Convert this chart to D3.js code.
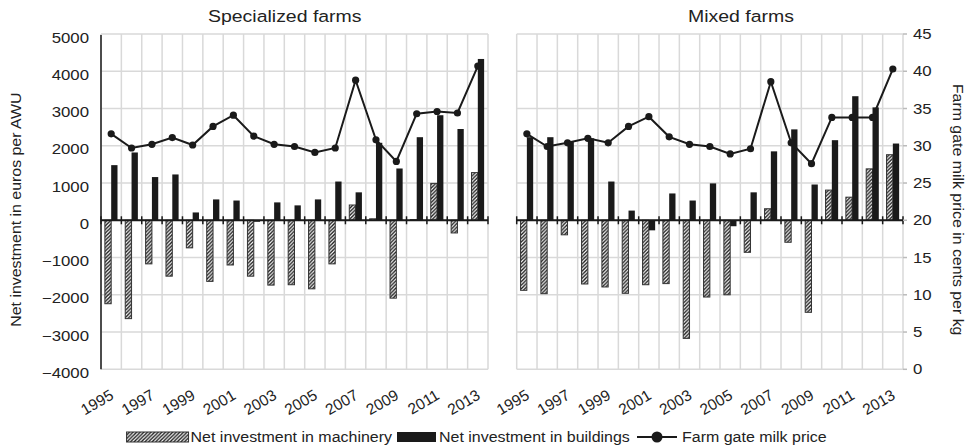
<!DOCTYPE html>
<html>
<head>
<meta charset="utf-8">
<script src="https://cdn.jsdelivr.net/npm/d3@7"></script>
<style>
  body { margin: 0; background: #fff; }
  text { font-family: "Liberation Sans", Arial, sans-serif; fill: #222; }
</style>
</head>
<body>
<svg id="chart" width="973" height="448"></svg>
<script>
const years = [1995, 1996, 1997, 1998, 1999, 2000, 2001, 2002, 2003, 2004,
  2005, 2006, 2007, 2008, 2009, 2010, 2011, 2012, 2013];
const yearLabels = [1995, 1997, 1999, 2001, 2003, 2005, 2007, 2009, 2011, 2013];

const specMach = [-2240, -2640, -1170, -1500, -740, -1640, -1200, -1500, -1740, -1730,
  -1840, -1170, 410, 40, -2090, 20, 990, -340, 1280];
const specBuild = [1480, 1820, 1160, 1230, 210, 560, 530, -40, 480, 400,
  560, 1040, 750, 2080, 1390, 2230, 2820, 2450, 4330];
const specPrice = [31.6, 29.7, 30.2, 31.1, 30.1, 32.6, 34.1, 31.3, 30.2, 29.9,
  29.1, 29.7, 38.8, 30.8, 27.9, 34.3, 34.6, 34.4, 40.7];

const mixMach = [-1880, -1970, -390, -1710, -1790, -1960, -1730, -1700, -3170, -2060,
  -2000, -860, 310, -590, -2470, 810, 620, 1380, 1760];
const mixBuild = [2230, 2230, 2100, 2200, 1040, 260, -270, 720, 530, 990,
  -160, 750, 1850, 2440, 960, 2150, 3330, 3030, 2060];
const mixPrice = [31.6, 29.9, 30.4, 31.0, 30.4, 32.6, 33.9, 31.2, 30.2, 29.9,
  28.9, 29.6, 38.6, 30.4, 27.6, 33.8, 33.8, 33.8, 40.3];

const invTicks = [-4000, -3000, -2000, -1000, 0, 1000, 2000, 3000, 4000, 5000];
const priceTicks = [0, 5, 10, 15, 20, 25, 30, 35, 40, 45];

const svg = d3.select('#chart');
const sx = 1.16; // reference text is a bit wider than Arial

function label(g, x, y, s, size, anchor, k) {
  return g.append('text')
    .attr('transform', `translate(${x},${y}) scale(${k || sx},1)`)
    .attr('text-anchor', anchor || 'start')
    .style('font-size', size + 'px')
    .text(s);
}

const defs = svg.append('defs');
defs.append('pattern')
  .attr('id', 'hatch')
  .attr('patternUnits', 'userSpaceOnUse')
  .attr('width', 3.6)
  .attr('height', 3.6)
  .append('path')
  .attr('d', 'M-0.9,0.9 l1.8,-1.8 M0,3.6 l3.6,-3.6 M2.7,4.5 l1.8,-1.8')
  .attr('stroke', '#1a1a1a')
  .attr('stroke-width', 1.4);

const plotTop = 34, plotBottom = 369.3;
const yInv = d3.scaleLinear().domain([-4000, 5000]).range([plotBottom, plotTop]);
const yPrice = d3.scaleLinear().domain([0, 45]).range([plotBottom, plotTop]);

function panel(x0, x1, mach, build, price, leftAxis) {
  const g = svg.append('g');
  const x = d3.scaleBand().domain(years).range([x0, x1])
    .paddingInner(0.38).paddingOuter(0.19);
  const step = x.step();
  const xs = d3.scaleBand().domain(['m', 'b']).range([0, x.bandwidth()]);
  const edges = years.map(d => x(d) - step * 0.19).concat([x1]);

  // grid
  g.selectAll('line.h').data(invTicks).enter().append('line')
    .attr('x1', x0).attr('x2', x1)
    .attr('y1', d => yInv(d)).attr('y2', d => yInv(d))
    .attr('stroke', '#d9d9d9').attr('stroke-width', 1.5);
  g.selectAll('line.v').data(edges).enter().append('line')
    .attr('x1', d => d).attr('x2', d => d)
    .attr('y1', plotTop).attr('y2', plotBottom)
    .attr('stroke', '#d9d9d9').attr('stroke-width', 1.5);

  // bars
  const rows = years.map((yr, i) => ({ yr, m: mach[i], b: build[i], p: price[i] }));
  g.selectAll('rect.m').data(rows).enter().append('rect')
    .attr('x', d => x(d.yr) + xs('m'))
    .attr('width', xs.bandwidth())
    .attr('y', d => yInv(Math.max(0, d.m)))
    .attr('height', d => Math.abs(yInv(d.m) - yInv(0)))
    .attr('fill', 'url(#hatch)')
    .attr('stroke', '#333').attr('stroke-width', 1);
  g.selectAll('rect.b').data(rows).enter().append('rect')
    .attr('x', d => x(d.yr) + xs('b'))
    .attr('width', xs.bandwidth())
    .attr('y', d => yInv(Math.max(0, d.b)))
    .attr('height', d => Math.abs(yInv(d.b) - yInv(0)))
    .attr('fill', '#1a1a1a');

  // zero axis with ticks
  g.append('line')
    .attr('x1', x0).attr('x2', x1)
    .attr('y1', yInv(0)).attr('y2', yInv(0))
    .attr('stroke', '#1a1a1a').attr('stroke-width', 2);
  g.selectAll('line.t').data(edges).enter().append('line')
    .attr('x1', d => d).attr('x2', d => d)
    .attr('y1', yInv(0) - 4).attr('y2', yInv(0) + 4)
    .attr('stroke', '#1a1a1a').attr('stroke-width', 1.5);

  if (leftAxis) {
    g.append('line')
      .attr('x1', x0).attr('x2', x0).attr('y1', plotTop + 1).attr('y2', plotBottom)
      .attr('stroke', '#1a1a1a').attr('stroke-width', 1.5);
  }

  // price line
  const cx = d => x(d.yr) + x.bandwidth() / 2;
  g.append('path')
    .datum(rows)
    .attr('fill', 'none')
    .attr('stroke', '#1a1a1a')
    .attr('stroke-width', 2)
    .attr('d', d3.line().x(cx).y(d => yPrice(d.p)));
  g.selectAll('circle').data(rows).enter().append('circle')
    .attr('cx', cx).attr('cy', d => yPrice(d.p)).attr('r', 3.6)
    .attr('fill', '#1a1a1a');

  // year labels
  g.selectAll('text.yr').data(yearLabels).enter().append('text')
    .attr('text-anchor', 'end')
    .style('font-size', '15.5px')
    .attr('transform', d => `translate(${x(d) + x.bandwidth() / 2 + 3.5},${plotBottom + 29}) rotate(-30)`)
    .text(d => d);

  return g;
}

panel(101, 488, specMach, specBuild, specPrice, true);
const right = panel(516.7, 903, mixMach, mixBuild, mixPrice, false);

// right axis outward ticks
right.selectAll('line.rt').data(priceTicks).enter().append('line')
  .attr('x1', 903).attr('x2', 907)
  .attr('y1', d => yPrice(d)).attr('y2', d => yPrice(d))
  .attr('stroke', '#bbb').attr('stroke-width', 1.5);

// axis labels
invTicks.forEach(v => label(svg, 89, yInv(v) + 8.5, d3.format('')(v), 14, 'end', 1.2));
priceTicks.forEach(v => label(svg, 913, yPrice(v) + 5, v, 14, 'start', 1.2));

// titles
label(svg, 208, 22, 'Specialized farms', 16.5, 'start', 1.18);
label(svg, 688, 22, 'Mixed farms', 16.5, 'start', 1.18);

svg.append('text')
  .attr('transform', `translate(21,${(plotTop + plotBottom) / 2 + 8}) rotate(-90) scale(1.06,1)`)
  .attr('text-anchor', 'middle')
  .style('font-size', '15px')
  .text('Net investment in euros per AWU');
svg.append('text')
  .attr('transform', `translate(953,${(plotTop + plotBottom) / 2 + 8}) rotate(90) scale(1.06,1)`)
  .attr('text-anchor', 'middle')
  .style('font-size', '15px')
  .text('Farm gate milk price in cents per kg');

// legend
const ly = 437;
const leg = svg.append('g');
const tb = label(leg, 439, ly + 5, 'Net investment in buildings', 15, 'start', 1);
const kLeg = 191 / tb.node().getComputedTextLength();
tb.attr('transform', `translate(439,${ly + 5}) scale(${kLeg},1)`);
const t1 = label(leg, 392, ly + 5, 'Net investment in machinery', 15, 'end', kLeg);
const w1 = t1.node().getComputedTextLength() * kLeg;
leg.append('rect')
  .attr('x', 392 - w1 - 64).attr('y', ly - 5).attr('width', 62).attr('height', 10)
  .attr('fill', 'url(#hatch)').attr('stroke', '#333');
leg.append('rect')
  .attr('x', 397).attr('y', ly - 5).attr('width', 39).attr('height', 10)
  .attr('fill', '#1a1a1a');
leg.append('line')
  .attr('x1', 637).attr('x2', 677).attr('y1', ly).attr('y2', ly)
  .attr('stroke', '#1a1a1a').attr('stroke-width', 2);
leg.append('circle').attr('cx', 657).attr('cy', ly).attr('r', 5.5).attr('fill', '#1a1a1a');
label(leg, 682, ly + 5, 'Farm gate milk price', 15, 'start', kLeg);
</script>
</body>
</html>
